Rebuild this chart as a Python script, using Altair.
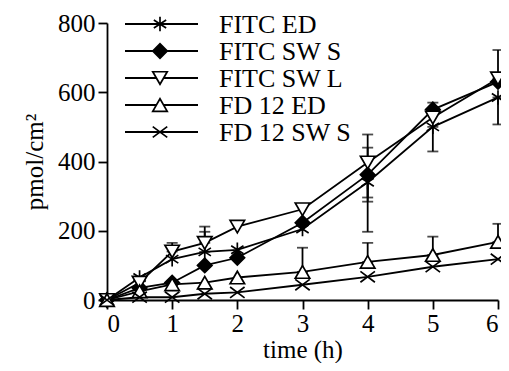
import altair as alt
import pandas as pd

# ---- data ----
times = [0, 0.5, 1, 1.5, 2, 3, 4, 5, 6]
series = ["FITC ED", "FITC SW S", "FITC SW L", "FD 12 ED", "FD 12 SW S"]

fitc_ed = [0, 65, 118, 139, 145, 205, 340, 500, 585]
fitc_sw_s = [0, 35, 50, 100, 122, 223, 362, 550, 630]
fitc_sw_l = [0, 50, 140, 165, 212, 262, 397, 527, 640]
fd12_ed = [0, 25, 45, 50, 65, 81, 110, 130, 168]
fd12_sw_s = [0, 8, 8, 18, 22, 44, 67, 96, 118]

# error bar extents (upper / lower) read from the caps
fitc_ed_hi = [0, 0, 0, 58, 0, 0, 100, 0, 0]
fitc_ed_lo = [0, 0, 0, 0, 0, 0, 143, 71, 78]
fitc_sw_s_hi = [0, 0, 0, 0, 0, 0, 0, 20, 0]
fitc_sw_s_lo = [0, 0, 0, 0, 0, 0, 78, 0, 0]
fitc_sw_l_hi = [0, 0, 25, 47, 0, 0, 81, 0, 82]
fitc_sw_l_lo = [0, 0, 0, 0, 0, 0, 101, 0, 0]
fd12_ed_hi = [0, 0, 0, 0, 0, 70, 55, 53, 52]
fd12_ed_lo = [0, 0, 0, 0, 0, 0, 0, 0, 0]
fd12_sw_s_hi = [0, 0, 0, 0, 0, 0, 0, 0, 0]
fd12_sw_s_lo = [0, 0, 0, 0, 0, 0, 0, 0, 0]

values = [fitc_ed, fitc_sw_s, fitc_sw_l, fd12_ed, fd12_sw_s]
highs = [fitc_ed_hi, fitc_sw_s_hi, fitc_sw_l_hi, fd12_ed_hi, fd12_sw_s_hi]
lows = [fitc_ed_lo, fitc_sw_s_lo, fitc_sw_l_lo, fd12_ed_lo, fd12_sw_s_lo]

# ---- styles ----
ASTERISK = "M0,-1L0,1M-0.85,-0.55L0.85,0.55M-0.85,0.55L0.85,-0.55"
XSHAPE = "M-1,-0.75L1,0.75M-1,0.75L1,-0.75"
shapes = [ASTERISK, "diamond", "triangle-down", "triangle-up", XSHAPE]
fills = ["black", "black", "white", "white", "black"]
FONT = "Liberation Serif"

rows = []
for s, vals, hi, lo in zip(series, values, highs, lows):
    for t, v, h, l in zip(times, vals, hi, lo):
        rows.append({"series": s, "t": t, "v": v, "hi": v + h, "lo": v - l, "has_err": (h > 0 or l > 0)})
df = pd.DataFrame(rows)
err_df = df[df["has_err"]]

xscale = alt.Scale(domain=[0, 6], nice=False)
yscale = alt.Scale(domain=[0, 800], nice=False)

X = alt.X("t:Q", scale=xscale,
          axis=alt.Axis(values=list(range(7)), title="time (h)", format="d"))
Y = alt.Y("v:Q", scale=yscale,
          axis=alt.Axis(values=[0, 200, 400, 600, 800], title="pmol/cm²"))

base = alt.Chart(df)

lines = base.mark_line(color="black", strokeWidth=1.8).encode(
    x=X, y=Y, detail="series:N")

errs = alt.Chart(err_df).mark_errorbar(ticks=alt.TickConfig(size=11, thickness=1.8, color="black"),
                                       color="black", thickness=1.8).encode(
    x=alt.X("t:Q", scale=xscale),
    y=alt.Y("lo:Q", scale=yscale, title="pmol/cm²"),
    y2="hi:Q")

points = base.mark_point(filled=True, size=210, stroke="black", strokeWidth=1.7, opacity=1).encode(
    x=X, y=Y,
    shape=alt.Shape("series:N", scale=alt.Scale(domain=series, range=shapes), legend=None),
    fill=alt.Fill("series:N", scale=alt.Scale(domain=series, range=fills), legend=None))

# ---- manual legend (line + marker + label) ----
legend_layers = []
for i, (s, shp, f) in enumerate(zip(series, shapes, fills)):
    yy = 1 + 27 * i
    ldf = pd.DataFrame({"s": [s]})
    legend_layers.append(alt.Chart(ldf).mark_rule(color="black", strokeWidth=1.8).encode(
        x=alt.value(18), x2=alt.value(91), y=alt.value(yy)))
    legend_layers.append(alt.Chart(ldf).mark_point(shape=shp, filled=True, fill=f, stroke="black",
                                                   strokeWidth=1.7, size=210, opacity=1).encode(
        x=alt.value(53), y=alt.value(yy)))
    legend_layers.append(alt.Chart(ldf).mark_text(align="left", baseline="middle", font=FONT,
                                                  fontSize=26, color="black", dy=1).encode(
        x=alt.value(112), y=alt.value(yy), text="s:N"))

chart = alt.layer(lines, errs, points, *legend_layers).properties(
    width=391, height=277,
    autosize=alt.AutoSizeParams(type="none"),
    padding={"left": 99, "top": 15, "right": 3, "bottom": 63},
).configure_view(stroke=None).configure_axis(
    grid=False, domainColor="black", domainWidth=1.8, tickColor="black", tickWidth=1.8,
    tickSize=9, labelFont=FONT, labelFontSize=25, labelColor="black",
    titleFont=FONT, titleFontSize=25, titleFontWeight="normal", titleColor="black",
).configure_axisX(labelPadding=2, titlePadding=1).configure_axisY(labelPadding=3, titlePadding=10)

chart.save("out.html", embed_options={"renderer": "svg", "actions": False})
